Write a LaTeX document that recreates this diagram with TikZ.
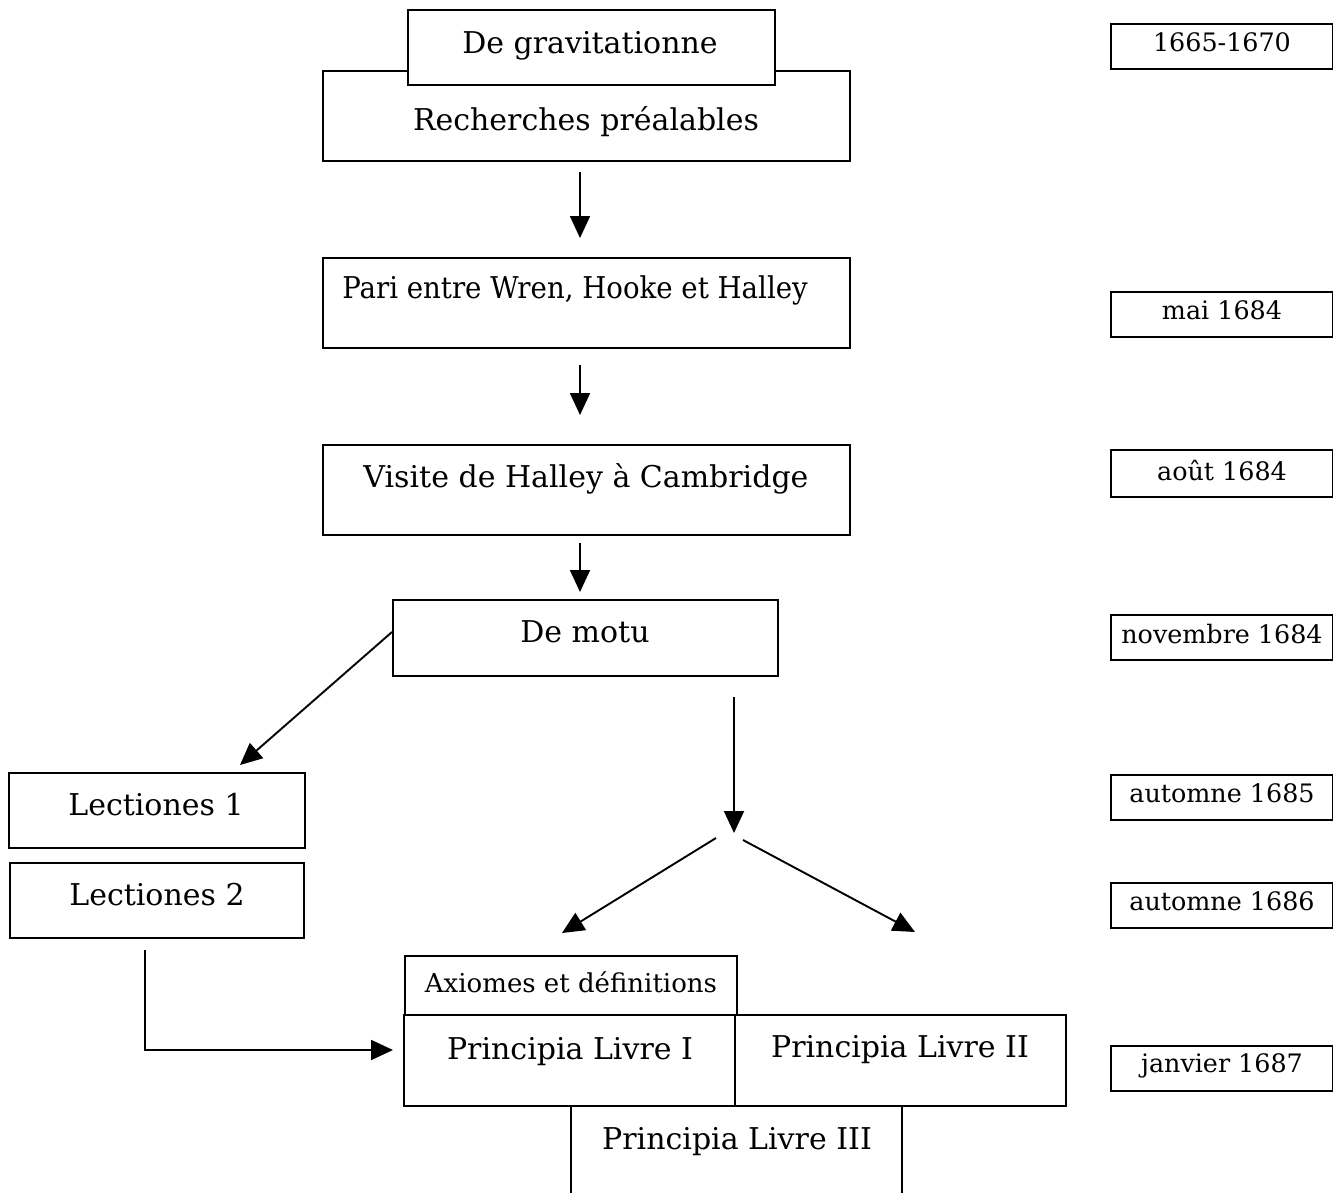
\documentclass[tikz,border=0pt]{standalone}
\usepackage{fontspec}
\setmainfont{DejaVu Serif}
\usetikzlibrary{arrows.meta}
\newcommand\mybox[5]{\node[box,minimum width={(#4-#2)*0.5pt},minimum height={(#5-#3)*0.5pt}] (#1) at ({(#2+#4)/2},{(#3+#5)/2}) {};}
\begin{document}
\begin{tikzpicture}[x=0.5pt,y=-0.5pt,
  box/.style={draw, fill=white, line width=0.9pt, inner sep=0pt, outer sep=0pt},
  txt/.style={anchor=base, inner sep=0pt, font=\fontsize{15}{17}\selectfont},
  stxt/.style={anchor=base, inner sep=0pt, font=\fontsize{13}{15}\selectfont},
  dtxt/.style={anchor=base, inner sep=0pt, font=\fontsize{12.7}{14}\selectfont},
  arr/.style={line width=0.95pt, -{Triangle[length=11pt,width=10pt]}},
  ln/.style={line width=0.95pt}]
\useasboundingbox (0,0) rectangle (1333,1193);
\clip (0,0) rectangle (1333,1193);
% main column
\mybox{rech}{323}{71}{850}{161}
\mybox{grav}{408}{10}{775}{85}
\node[txt] (gravt) at (590,54) {De gravitationne};
\node[txt] (recht) at (586,131) {Recherches préalables};
\mybox{pari}{323}{258}{850}{348}
\node[txt] (parit) at (575,298) {\scalebox{0.92}[1]{Pari entre Wren, Hooke et Halley}};
\mybox{visite}{323}{445}{850}{535}
\node[txt] (visitet) at (586,487) {Visite de Halley à Cambridge};
\mybox{motu}{393}{600}{778}{676}
\node[txt] (motut) at (585,642) {De motu};
\mybox{lec1}{9}{773}{305}{848}
\node[txt] (lec1t) at (156,815) {Lectiones 1};
\mybox{lec2}{10}{863}{304}{938}
\node[txt] (lec2t) at (157,905) {Lectiones 2};
\mybox{axi}{405}{956}{737}{1015}
\node[stxt] (axit) at (571,992) {Axiomes et définitions};
\mybox{pr1}{404}{1015}{735}{1106}
\mybox{pr2}{735}{1015}{1066}{1106}
\mybox{pr3}{571}{1106}{902}{1220}
\node[txt] (pr1t) at (570,1059) {Principia Livre I};
\node[txt] (pr2t) at (900,1057) {Principia Livre II};
\node[txt] (pr3t) at (737,1149) {Principia Livre III};
% dates
\mybox{d1}{1111}{24}{1333}{69}
\node[dtxt] (d1t) at (1222,52) {1665-1670};
\mybox{d2}{1111}{292}{1333}{337}
\node[dtxt] (d2t) at (1222,319) {mai 1684};
\mybox{d3}{1111}{450}{1333}{497}
\node[dtxt] (d3t) at (1222,480) {août 1684};
\mybox{d4}{1111}{615}{1333}{660}
\node[dtxt] (d4t) at (1222,643) {novembre 1684};
\mybox{d5}{1111}{775}{1333}{820}
\node[dtxt] (d5t) at (1222,802) {automne 1685};
\mybox{d6}{1111}{883}{1333}{928}
\node[dtxt] (d6t) at (1222,910) {automne 1686};
\mybox{d7}{1111}{1046}{1333}{1091}
\node[dtxt] (d7t) at (1222,1072) {janvier 1687};
% connector coordinates
\coordinate (a1s) at (580,172); \coordinate (a1e) at (580,238);
\coordinate (a2s) at (580,365); \coordinate (a2e) at (580,415);
\coordinate (a3s) at (580,543); \coordinate (a3e) at (580,592);
\coordinate (ms) at (392,632); \coordinate (me) at (240,765);
\coordinate (ls) at (145,950); \coordinate (lc) at (145,1050); \coordinate (le) at (393,1050);
\coordinate (vs) at (734,697); \coordinate (ve) at (734,833);
\coordinate (bls) at (716,838); \coordinate (ble) at (562,933);
\coordinate (brs) at (743,840); \coordinate (bre) at (915,932);
\draw[arr] (a1s) -- (a1e);
\draw[arr] (a2s) -- (a2e);
\draw[arr] (a3s) -- (a3e);
\draw[arr] (ms) -- (me);
\draw[arr] (ls) -- (lc) -- (le);
\draw[arr] (vs) -- (ve);
\draw[arr] (bls) -- (ble);
\draw[arr] (brs) -- (bre);
\end{tikzpicture}
\end{document}
